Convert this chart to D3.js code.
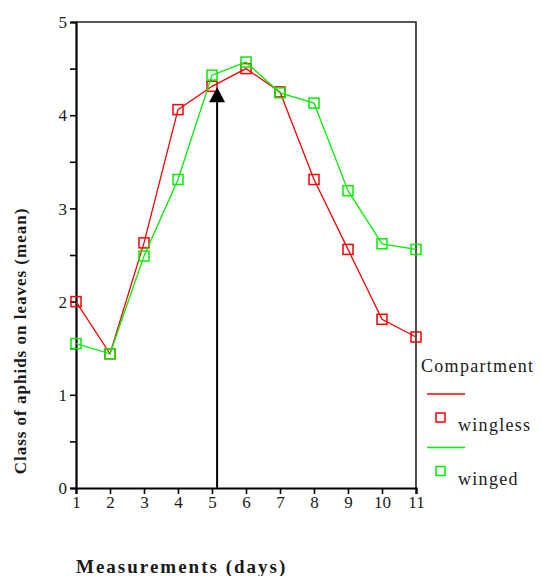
<!DOCTYPE html>
<html>
<head>
<meta charset="utf-8">
<script src="https://cdn.jsdelivr.net/npm/d3@7"></script>
<style>
  html, body { margin: 0; padding: 0; background: #fff; }
  svg { display: block; }
</style>
</head>
<body>
<svg id="chart" width="542" height="576"></svg>
<script>
// Measurement days on the x axis
const days = [1, 2, 3, 4, 5, 6, 7, 8, 9, 10, 11];
// Mean aphid class per compartment
const wingless = [2.00, 1.44, 2.63, 4.06, 4.31, 4.50, 4.25, 3.31, 2.56, 1.81, 1.62];
const winged   = [1.55, 1.44, 2.49, 3.31, 4.43, 4.57, 4.24, 4.13, 3.19, 2.62, 2.56];
// Tick values
const xTicks = [1, 2, 3, 4, 5, 6, 7, 8, 9, 10, 11];
const yMajorTicks = [0, 1, 2, 3, 4, 5];
const yMinorTicks = [0.5, 1.5, 2.5, 3.5, 4.5];
// Arrow marking the treatment day
const arrowDay = 5.15;
const arrowTop = 4.30;

const seriesNames = ["wingless", "winged"];
const seriesColors = ["#ff0000", "#00f000"];

const FONT = "Liberation Serif, DejaVu Serif, serif";
const TEXT_COLOR = "#1a1a1a";

const svg = d3.select("#chart");
const plot = { left: 76, right: 416, top: 22, bottom: 488 };

const x = d3.scaleLinear().domain([1, 11]).range([plot.left, plot.right]);
const y = d3.scaleLinear().domain([0, 5]).range([plot.bottom, plot.top]);

// Frame (top and right sides)
svg.append("path")
  .attr("d", `M${plot.left},${plot.top}H${plot.right}V${plot.bottom}`)
  .attr("fill", "none").attr("stroke", "#222").attr("stroke-width", 1.6);

// Y axis
const yAxis = svg.append("g").attr("transform", `translate(${plot.left},0)`)
  .call(d3.axisLeft(y).tickValues(yMajorTicks).tickFormat(d3.format("d")).tickSize(6).tickPadding(3));
svg.append("g").attr("transform", `translate(${plot.left},0)`)
  .call(d3.axisLeft(y).tickValues(yMinorTicks).tickFormat("").tickSize(6))
  .call(g => g.select(".domain").remove());

// X axis
const xAxis = svg.append("g").attr("transform", `translate(0,${plot.bottom})`)
  .call(d3.axisBottom(x).tickValues(xTicks).tickFormat(d3.format("d")).tickSize(6).tickPadding(2));

svg.selectAll(".domain").attr("stroke", "#000").attr("stroke-width", 2.2);
svg.selectAll(".tick line").attr("stroke", "#000").attr("stroke-width", 1.6);
svg.selectAll("g").attr("font-family", FONT);
svg.selectAll(".tick text")
  .attr("font-family", FONT).attr("font-size", 17).attr("fill", TEXT_COLOR);
yAxis.selectAll(".tick text").attr("dy", "0.34em");

// Series lines and square markers
const line = d3.line().x((d, i) => x(days[i])).y(d => y(d));
[wingless, winged].forEach((vals, k) => {
  svg.append("path").datum(vals)
    .attr("d", line).attr("fill", "none")
    .attr("stroke", seriesColors[k]).attr("stroke-width", 1.3);
  svg.append("g").selectAll("rect").data(vals).join("rect")
    .attr("x", (d, i) => x(days[i]) - 5).attr("y", d => y(d) - 5)
    .attr("width", 10).attr("height", 10)
    .attr("fill", "none").attr("stroke", seriesColors[k]).attr("stroke-width", 1.5);
});

// Arrow
svg.append("line")
  .attr("x1", x(arrowDay)).attr("x2", x(arrowDay))
  .attr("y1", y(0)).attr("y2", y(arrowTop) + 12)
  .attr("stroke", "#000").attr("stroke-width", 2);
svg.append("path")
  .attr("d", `M${x(arrowDay)},${y(arrowTop)}l-8,15h16z`)
  .attr("fill", "#000");

// Axis titles
svg.append("text")
  .attr("transform", `translate(26,${(plot.top + plot.bottom) / 2 + 86}) rotate(-90)`)
  .attr("text-anchor", "middle")
  .attr("font-family", FONT).attr("fill", TEXT_COLOR)
  .attr("font-size", 17).attr("font-weight", "bold").attr("letter-spacing", 1)
  .text("Class of aphids on leaves (mean)");
svg.append("text")
  .attr("x", plot.left).attr("y", 573)
  .attr("font-family", FONT).attr("fill", TEXT_COLOR)
  .attr("font-size", 19).attr("font-weight", "bold").attr("letter-spacing", 2)
  .text("Measurements (days)");

// Legend
const lg = svg.append("g").attr("font-family", FONT).attr("fill", TEXT_COLOR);
lg.append("text").attr("x", 421).attr("y", 372)
  .attr("font-size", 18).attr("letter-spacing", 1.3).text("Compartment");
seriesNames.forEach((name, k) => {
  const y0 = 394 + k * 53.5;
  lg.append("line").attr("x1", 427).attr("x2", 465).attr("y1", y0).attr("y2", y0)
    .attr("stroke", seriesColors[k]).attr("stroke-width", 1.3);
  lg.append("rect").attr("x", 436).attr("y", y0 + 19).attr("width", 9).attr("height", 9)
    .attr("fill", "none").attr("stroke", seriesColors[k]).attr("stroke-width", 1.5);
  lg.append("text").attr("x", 458).attr("y", y0 + 37)
    .attr("font-size", 18).attr("letter-spacing", 1.3).text(name);
});
</script>
</body>
</html>
